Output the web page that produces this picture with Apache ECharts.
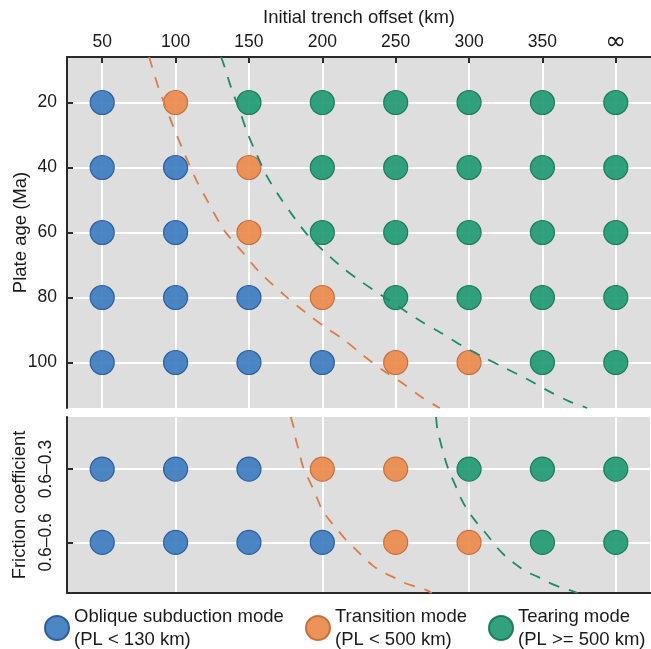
<!DOCTYPE html>
<html>
<head>
<meta charset="utf-8">
<script src="https://cdn.jsdelivr.net/npm/echarts@6/dist/echarts.min.js"></script>
<style>
html, body { margin: 0; padding: 0; background: #fff; }
#chart { width: 651px; height: 649px; }
</style>
</head>
<body>
<div id="chart"></div>
<script>
// column labels (initial trench offset, km) -> column index 1..8
const offsetLabels = ['50', '100', '150', '200', '250', '300', '350', '∞'];
const columns = [1, 2, 3, 4, 5, 6, 7, 8];
const plateAges = [20, 40, 60, 80, 100];
const frictionLabels = ['0.6–0.3', '0.6–0.6'];
const frictionRows = [1, 2];

// 0 = oblique subduction, 1 = transition, 2 = tearing
const ageModes = [
    [0, 1, 2, 2, 2, 2, 2, 2],
    [0, 0, 1, 2, 2, 2, 2, 2],
    [0, 0, 1, 2, 2, 2, 2, 2],
    [0, 0, 0, 1, 2, 2, 2, 2],
    [0, 0, 0, 0, 1, 1, 2, 2]
];
const frictionModes = [
    [0, 0, 0, 1, 1, 2, 2, 2],
    [0, 0, 0, 0, 1, 1, 2, 2]
];

const modeNames = [
    'Oblique subduction mode\n(PL < 130 km)',
    'Transition mode\n(PL < 500 km)',
    'Tearing mode\n(PL >= 500 km)'
];
const modeFill = ['#3d7cc0', '#ea8a4c', '#1f9a72'];
const modeBorder = ['#24589a', '#c8683a', '#157655'];

// dashed boundaries, [column index, plate age]
const orangeAgeCurve = [
    [1.64, 6], [1.77, 15.6], [1.96, 26.9], [2.14, 36.7], [2.28, 43.8], [2.44, 50.5],
    [2.6, 57.1], [2.69, 60.2], [2.91, 66], [3.14, 72.1], [3.51, 79.8], [3.76, 84.4],
    [4.03, 89], [4.3, 93.1], [4.55, 97.7], [4.82, 102.3], [5.09, 106.3], [5.37, 110.9], [5.6, 114]
];
const greenAgeCurve = [
    [2.62, 6], [2.66, 8.5], [2.76, 15.6], [2.87, 22.3], [2.98, 29.4], [3.11, 36.2],
    [3.25, 42.9], [3.42, 49.1], [3.62, 55.5], [3.8, 60.8], [4.03, 65.9], [4.28, 70.9],
    [4.53, 75.1], [4.8, 79.2], [5.35, 87.4], [5.62, 90.9], [5.91, 94.9], [6.19, 98.3],
    [6.49, 101.7], [6.79, 105.1], [7.06, 108.5], [7.35, 111.8], [7.61, 114]
];
// [column index, friction row]
const orangeFrictionCurve = [
    [3.57, 0.29], [3.62, 0.47], [3.64, 0.6], [3.69, 0.78], [3.73, 0.95], [3.8, 1.11],
    [3.87, 1.26], [3.93, 1.4], [4.0, 1.56], [4.1, 1.7], [4.21, 1.83], [4.3, 1.94],
    [4.44, 2.08], [4.53, 2.17], [4.68, 2.31], [4.81, 2.4], [4.96, 2.47], [5.09, 2.54],
    [5.29, 2.61], [5.42, 2.65], [5.49, 2.69]
];
const greenFrictionCurve = [
    [5.55, 0.29], [5.57, 0.47], [5.61, 0.63], [5.65, 0.78], [5.7, 0.95], [5.76, 1.1],
    [5.83, 1.26], [5.9, 1.42], [5.98, 1.56], [6.08, 1.7], [6.19, 1.83], [6.28, 1.94],
    [6.39, 2.08], [6.51, 2.2], [6.65, 2.31], [6.78, 2.4], [6.94, 2.47], [7.07, 2.54],
    [7.24, 2.61], [7.4, 2.66], [7.48, 2.69]
];

const font = 'Liberation Sans, Arial, Helvetica, sans-serif';
const dark = '#2a2a2a';
const ink = '#1a1a1a';

const chart = echarts.init(document.getElementById('chart'), null, { renderer: 'canvas' });

const pointsFor = (rows, rowValues, mode) => {
    const out = [];
    rows.forEach((row, r) => {
        row.forEach((m, c) => {
            if (m === mode) out.push([columns[c], rowValues[r]]);
        });
    });
    return out;
};

const series = [];
modeNames.forEach((name, m) => {
    const style = {
        color: modeFill[m],
        borderColor: modeBorder[m],
        borderWidth: 1.2,
        opacity: 0.92
    };
    series.push({
        name: name, type: 'scatter', xAxisIndex: 0, yAxisIndex: 0,
        symbolSize: 24, itemStyle: style, data: pointsFor(ageModes, plateAges, m), z: 2
    });
    series.push({
        name: name, type: 'scatter', xAxisIndex: 1, yAxisIndex: 1,
        symbolSize: 24, itemStyle: style, data: pointsFor(frictionModes, frictionRows, m), z: 2
    });
});

const dashed = (data, color, xi) => ({
    type: 'line', xAxisIndex: xi, yAxisIndex: xi, data: data,
    showSymbol: false, symbol: 'none', smooth: 0.3, silent: true, z: 3,
    lineStyle: { color: color, width: 1.8, type: [11, 10] }
});
series.push(dashed(orangeAgeCurve, '#e07b45', 0));
series.push(dashed(greenAgeCurve, '#1a8c68', 0));
series.push(dashed(orangeFrictionCurve, '#e07b45', 1));
series.push(dashed(greenFrictionCurve, '#1a8c68', 1));

const baseX = {
    type: 'value', min: 0.52, max: 8.48,
    axisLine: { show: true, onZero: false, lineStyle: { color: dark, width: 2 } },
    axisTick: { show: true, inside: true, length: 6, customValues: columns, lineStyle: { color: dark, width: 2 } },
    axisLabel: {
        customValues: columns, fontSize: 17.5, lineHeight: 18, color: ink, fontFamily: font, margin: 6,
        formatter: v => {
            const t = offsetLabels[Math.round(v) - 1] || '';
            return t === '∞' ? '{inf|∞}' : t;
        },
        rich: { inf: { fontSize: 25, lineHeight: 18, color: ink, fontFamily: 'DejaVu Sans, sans-serif' } }
    },
    splitLine: { show: true, customValues: columns, lineStyle: { color: '#ffffff', width: 2 } }
};

const legendFor = (i, left) => ({
    data: [modeNames[i]], left: left, top: 605, padding: 0, orient: 'horizontal',
    icon: 'circle', itemWidth: 24, itemHeight: 24,
    textStyle: { fontSize: 18.5, lineHeight: 23, color: ink, fontFamily: font },
    selectedMode: false
});

chart.setOption({
    animation: false,
    textStyle: { fontFamily: font },
    grid: [
        { left: 67, right: 0, top: 57, height: 351, show: true, backgroundColor: '#dedede', borderWidth: 0, containLabel: false, outerBoundsMode: 'none' },
        { left: 67, right: 0, top: 417, height: 176, show: true, backgroundColor: '#dedede', borderWidth: 0, containLabel: false, outerBoundsMode: 'none' }
    ],
    legend: [legendFor(0, 44), legendFor(1, 305), legendFor(2, 488)],
    xAxis: [
        Object.assign({}, baseX, {
            gridIndex: 0, position: 'top',
            name: 'Initial trench offset (km)', nameLocation: 'middle', nameGap: 30, nameMoveOverlap: false,
            nameTextStyle: { fontSize: 18.5, color: ink, fontFamily: font }
        }),
        Object.assign({}, baseX, {
            gridIndex: 1, position: 'bottom',
            axisTick: { show: false },
            axisLabel: { show: false }
        })
    ],
    yAxis: [
        {
            type: 'value', gridIndex: 0, inverse: true, min: 6, max: 114,
            name: 'Plate age (Ma)', nameLocation: 'middle', nameGap: 37, nameMoveOverlap: false,
            nameTextStyle: { fontSize: 18.5, color: ink, fontFamily: font },
            axisLine: { show: true, onZero: false, lineStyle: { color: dark, width: 2 } },
            axisTick: { show: true, inside: true, length: 6, customValues: plateAges, lineStyle: { color: dark, width: 2 } },
            axisLabel: { customValues: plateAges, fontSize: 17.5, color: ink, fontFamily: font, margin: 10 },
            splitLine: { show: true, customValues: plateAges, lineStyle: { color: '#ffffff', width: 2 } }
        },
        {
            type: 'value', gridIndex: 1, inverse: true, min: 0.29, max: 2.69,
            name: 'Friction coefficient', nameLocation: 'middle', nameGap: 38, nameMoveOverlap: false,
            nameTextStyle: { fontSize: 18.5, color: ink, fontFamily: font },
            axisLine: { show: true, onZero: false, lineStyle: { color: dark, width: 2 } },
            axisTick: { show: true, inside: true, length: 6, customValues: frictionRows, lineStyle: { color: dark, width: 2 } },
            axisLabel: {
                customValues: frictionRows, rotate: 90, fontSize: 17.5, color: ink, fontFamily: font, margin: 12,
                formatter: v => frictionLabels[Math.round(v) - 1] || ''
            },
            splitLine: { show: true, customValues: frictionRows, lineStyle: { color: '#ffffff', width: 2 } }
        }
    ],
    series: series
});
</script>
</body>
</html>
